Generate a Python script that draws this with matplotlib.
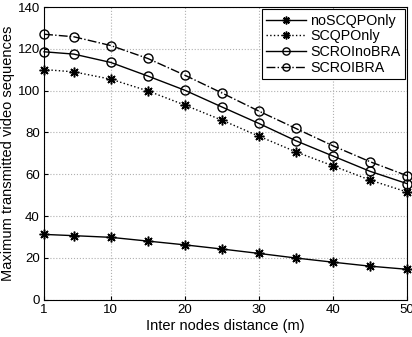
import matplotlib
matplotlib.use("Agg")
import matplotlib.pyplot as plt

plt.rcParams['font.family'] = ['Liberation Sans', 'DejaVu Sans']

distance = [1, 5, 10, 15, 20, 25, 30, 35, 40, 45, 50]
noSCQPOnly = [31.2, 30.6, 29.8, 28.0, 26.2, 24.2, 22.1, 19.9, 17.9, 16.0, 14.5]
SCQPOnly = [110.1, 109.0, 105.5, 99.9, 93.1, 85.9, 78.2, 70.7, 64.0, 57.2, 51.5]
SCROInoBRA = [118.6, 117.5, 113.5, 107.0, 100.2, 92.2, 84.3, 76.0, 68.7, 61.4, 55.5]
SCROIBRA = [127.0, 125.8, 121.6, 115.4, 107.4, 98.9, 90.2, 81.9, 73.6, 66.0, 59.3]
xticks = [1, 10, 20, 30, 40, 50]
yticks = [0, 20, 40, 60, 80, 100, 120, 140]

fig = plt.figure(figsize=(4.12, 3.37), dpi=100)
ax = fig.add_axes([0.107, 0.111, 0.881, 0.868])

star = (8, 2, 0)
ax.plot(distance, noSCQPOnly, color='black', linestyle='-', marker=star, markersize=7, markeredgewidth=1.1, linewidth=1.0, label='noSCQPOnly', clip_on=False)
ax.plot(distance, SCQPOnly, color='black', linestyle=':', marker=star, markersize=7, markeredgewidth=1.1, linewidth=1.0, label='SCQPOnly', clip_on=False)
ax.plot(distance, SCROInoBRA, color='black', linestyle='-', marker='o', markersize=6.5, markerfacecolor='none', linewidth=1.0, label='SCROInoBRA', clip_on=False)
ax.plot(distance, SCROIBRA, color='black', linestyle='-.', marker='o', markersize=6.5, markerfacecolor='none', linewidth=1.0, label='SCROIBRA', clip_on=False)

ax.set_xlim(1, 50)
ax.set_ylim(0, 140)
ax.set_xticks(xticks)
ax.set_yticks(yticks)
ax.tick_params(direction='in', labelsize=9.5, length=3, pad=3)
ax.grid(True, linestyle=':', color='#b0b0b0', linewidth=0.8)
ax.set_xlabel('Inter nodes distance (m)', fontsize=10.5, labelpad=2)
ax.set_ylabel('Maximum transmitted video sequences', fontsize=10.5, labelpad=2)
for s in ax.spines.values():
    s.set_linewidth(0.8)

leg = ax.legend(loc='upper right', fontsize=10.3, frameon=True, fancybox=False,
                edgecolor='black', framealpha=1, borderpad=0.3, labelspacing=0.12,
                handlelength=2.8, borderaxespad=0.15, handletextpad=0.3, markerscale=0.8)
leg.get_frame().set_linewidth(0.8)

fig.savefig('out.png', dpi=100)
